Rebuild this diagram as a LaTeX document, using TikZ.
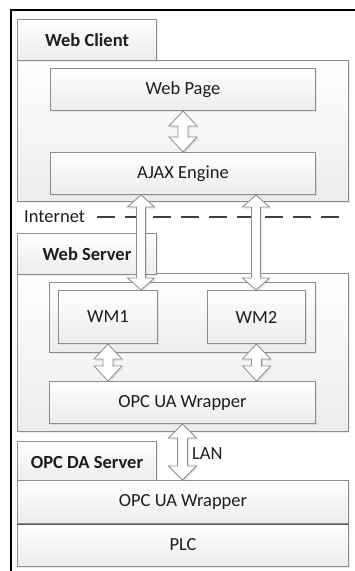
\documentclass[tikz,border=0pt]{standalone}
\usepackage{fontspec}
\setmainfont{Carlito}
\usetikzlibrary{calc,shadows}

\definecolor{boxline}{HTML}{8C8C8C}
\definecolor{boxbot}{HTML}{ECECEC}
\definecolor{txt}{HTML}{1E1E1E}
\definecolor{dashgray}{HTML}{404040}

% vertical block arrow with two heads: [options]{top}{bottom}{half head}{half shaft}{head length}
\newcommand\updown[6][]{%
  \path let \p1=#2, \p2=#3 in
    [draw=boxline, fill=white, line width=0.8pt,
     drop shadow={shadow xshift=1.5pt,shadow yshift=-1.5pt,opacity=0.2}, #1]
    (\x1,\y1) -- ({\x1+#4},{\y1-#6}) -- ({\x1+#5},{\y1-#6})
    -- ({\x1+#5},{\y2+#6}) -- ({\x1+#4},{\y2+#6}) -- (\x1,\y2)
    -- ({\x1-#4},{\y2+#6}) -- ({\x1-#5},{\y2+#6})
    -- ({\x1-#5},{\y1-#6}) -- ({\x1-#4},{\y1-#6}) -- cycle;}

\tikzset{
  box/.style={draw=boxline, line width=1pt, top color=white, bottom color=boxbot,
    anchor=north west, inner sep=0pt, text=txt, font=\fontsize{18.5}{22}\selectfont,
    drop shadow={shadow xshift=1.5pt,shadow yshift=-1.5pt,opacity=0.15}},
  tab/.style={box, font=\bfseries\fontsize{18.5}{22}\selectfont,
    minimum width=139pt, minimum height=41pt},
  label/.style={text=txt, font=\fontsize{18.5}{22}\selectfont, inner sep=0pt},
}

\begin{document}
\begin{tikzpicture}[x=1pt,y=-1pt]
	\useasboundingbox (0,0) rectangle (355,571);
	\fill[white] (0,0) rectangle (355,571);
	\draw[line width=2pt] (11,575) -- (11,10) -- (360,10);

	% web client
	\node[box, minimum width=331pt, minimum height=141pt] (client) at (17,60) {};
	\node[tab] (clienttab) at (17,19) {Web Client};
	\node[box, minimum width=265pt, minimum height=42pt] (page) at (50,68) {Web Page};
	\node[box, minimum width=265pt, minimum height=42pt] (ajax) at (50,152) {AJAX Engine};

	% internet
	\node[label, anchor=west] (inet) at (24,217) {Internet};
	\coordinate (dashend) at (342,217);
	\draw[dashgray, line width=2.5pt, dash pattern=on 18pt off 10pt]
		([xshift=12pt]inet.east) -- (dashend);

	% web server
	\node[box, minimum width=331pt, minimum height=158pt] (server) at (17,273) {};
	\node[tab] (servertab) at (17,233) {Web Server};
	\node[box, minimum width=266pt, minimum height=70pt] (wms) at (49,282) {};
	\node[box, minimum width=99pt, minimum height=53pt] (wm1) at (58,290) {WM1};
	\node[box, minimum width=98pt, minimum height=53pt] (wm2) at (207,290) {WM2};
	\node[box, minimum width=266pt, minimum height=42pt] (uasrv) at (49,381) {OPC UA Wrapper};

	% opc da server
	\node[tab] (datab) at (17,441) {OPC DA Server};
	\node[box, minimum width=331pt, minimum height=43pt] (darow) at (17,480) {OPC UA Wrapper};
	\node[box, minimum width=331pt, minimum height=43pt] (plc) at (17,523) {PLC};
	\draw[gray!70!black, line width=1pt] (darow.south west) -- (darow.south east);

	% arrows
	\coordinate (l1) at (141,0);
	\coordinate (l2) at (256,0);
	\updown{(page.south)}{(ajax.north)}{14pt}{5pt}{15pt}
	\updown{(ajax.south -| l1)}{(wm1.north -| l1)}{13.5pt}{4.5pt}{12pt}
	\updown{(ajax.south -| l2)}{(wm2.north -| l2)}{13.5pt}{4.5pt}{12pt}
	\updown{(wm1.south)}{(uasrv.north -| wm1.south)}{14pt}{5pt}{15pt}
	\updown{(wm2.south)}{(uasrv.north -| wm2.south)}{14pt}{5pt}{15pt}
	\updown{(uasrv.south)}{(darow.north)}{14pt}{5pt}{14pt}
	\node[label, anchor=west] (lan) at (192,454) {LAN};
\end{tikzpicture}
\end{document}
